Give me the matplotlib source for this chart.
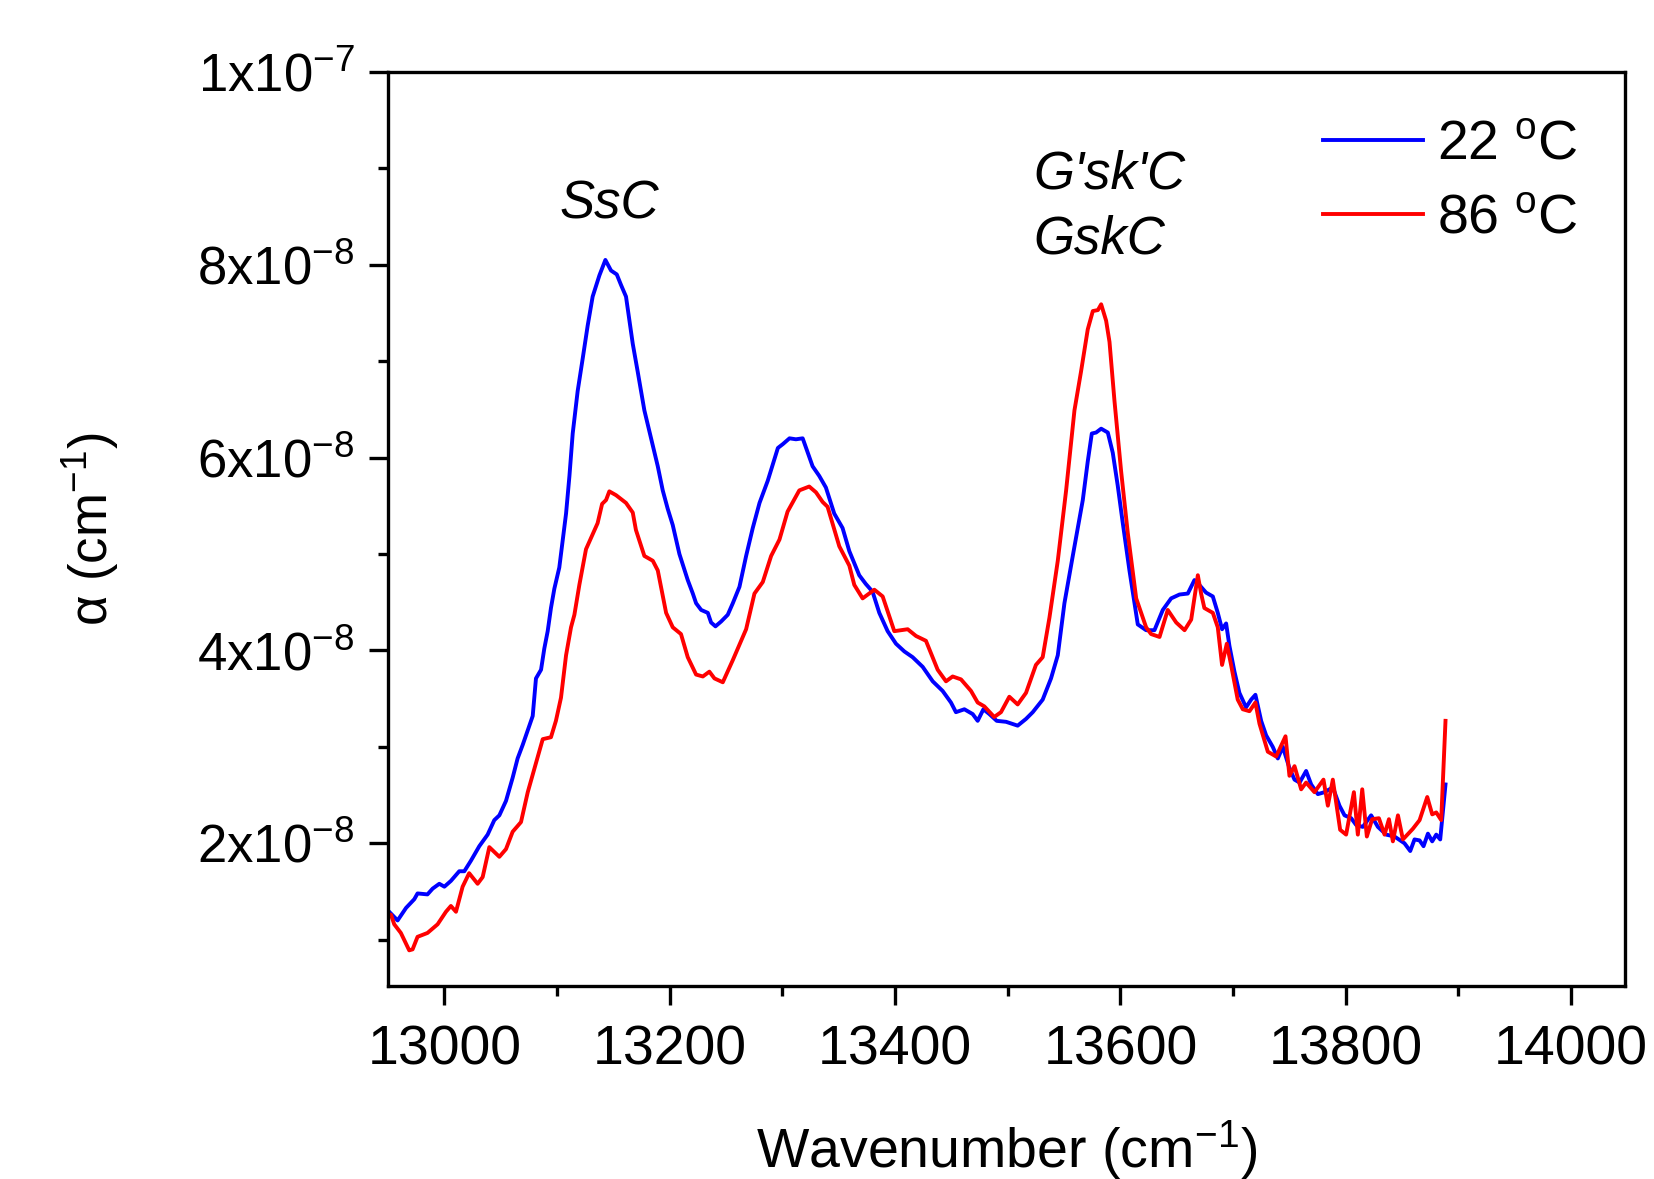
import matplotlib
matplotlib.use("Agg")
import matplotlib.pyplot as plt
from matplotlib.ticker import MultipleLocator, FuncFormatter
import numpy as np

plt.rcParams['font.family'] = ['Liberation Sans', 'DejaVu Sans']
plt.rcParams['mathtext.fontset'] = 'custom'
plt.rcParams['mathtext.rm'] = 'Liberation Sans'
plt.rcParams['mathtext.it'] = 'Liberation Sans:italic'

# 22 C spectrum (alpha in units of 1e-8 cm^-1)
wn_22 = [12951.0, 12958.5, 12966.0, 12973.3, 12976.2, 12985.0, 12989.6, 12995.5, 13000.0, 13005.8,
         13013.2, 13017.7, 13023.6, 13031.0, 13038.4, 13044.3, 13048.8, 13054.7, 13060.6, 13065.0,
         13069.5, 13074.0, 13078.4, 13081.3, 13085.8, 13088.7, 13091.7, 13094.6, 13097.6, 13102.0,
         13108.0, 13111.0, 13113.9, 13118.3, 13122.8, 13127.2, 13131.6, 13137.6, 13142.9, 13147.9,
         13153.0, 13156.8, 13161.2, 13167.2, 13171.6, 13177.5, 13183.4, 13189.4, 13193.8, 13198.2,
         13202.7, 13208.6, 13216.0, 13220.5, 13223.4, 13227.9, 13233.8, 13236.7, 13240.6, 13245.6,
         13251.5, 13256.0, 13261.9, 13267.8, 13273.7, 13279.7, 13287.0, 13296.0, 13300.4, 13306.3,
         13312.0, 13318.0, 13326.8, 13332.7, 13338.6, 13346.0, 13353.4, 13359.4, 13368.2, 13374.0,
         13380.0, 13386.0, 13393.4, 13400.8, 13408.2, 13415.6, 13424.5, 13433.4, 13442.2, 13449.6,
         13454.0, 13461.5, 13468.9, 13473.3, 13478.4, 13483.7, 13490.2, 13498.5, 13508.8, 13516.2,
         13522.2, 13531.0, 13538.4, 13544.4, 13550.3, 13557.7, 13566.6, 13571.0, 13574.6, 13578.4,
         13582.9, 13588.8, 13593.2, 13597.6, 13602.1, 13608.0, 13615.4, 13622.8, 13630.2, 13637.6,
         13645.0, 13652.4, 13659.8, 13665.7, 13670.0, 13676.0, 13682.0, 13686.4, 13690.2, 13693.8,
         13696.7, 13701.2, 13705.6, 13711.5, 13716.0, 13719.8, 13724.9, 13729.3, 13735.2, 13739.7,
         13744.1, 13750.0, 13754.5, 13759.0, 13764.8, 13769.3, 13775.2, 13781.1, 13788.5, 13794.4,
         13798.9, 13804.8, 13809.2, 13815.1, 13822.5, 13828.5, 13835.9, 13843.3, 13852.1, 13857.2,
         13861.0, 13865.5, 13869.0, 13872.9, 13876.7, 13880.3, 13883.8, 13888.5]
a_22 = [1.29, 1.20, 1.33, 1.42, 1.48, 1.47, 1.53, 1.58, 1.55, 1.61,
        1.71, 1.71, 1.82, 1.97, 2.09, 2.24, 2.29, 2.44, 2.68, 2.88,
        3.02, 3.17, 3.32, 3.71, 3.80, 4.02, 4.20, 4.44, 4.64, 4.86,
        5.42, 5.81, 6.25, 6.69, 7.03, 7.37, 7.67, 7.89, 8.05, 7.94,
        7.90, 7.79, 7.67, 7.18, 6.89, 6.49, 6.20, 5.91, 5.66, 5.47,
        5.30, 5.00, 4.73, 4.59, 4.49, 4.42, 4.39, 4.29, 4.25, 4.30,
        4.37, 4.49, 4.66, 4.98, 5.27, 5.53, 5.76, 6.10, 6.14, 6.20,
        6.19, 6.20, 5.91, 5.81, 5.69, 5.42, 5.27, 5.03, 4.78, 4.69,
        4.61, 4.39, 4.20, 4.07, 3.99, 3.93, 3.83, 3.68, 3.58, 3.46,
        3.36, 3.39, 3.34, 3.27, 3.39, 3.34, 3.27, 3.26, 3.22, 3.29,
        3.36, 3.49, 3.71, 3.95, 4.49, 4.98, 5.56, 5.96, 6.25, 6.26,
        6.30, 6.26, 6.05, 5.71, 5.32, 4.83, 4.27, 4.21, 4.21, 4.42,
        4.54, 4.58, 4.59, 4.73, 4.68, 4.60, 4.56, 4.39, 4.22, 4.28,
        4.05, 3.78, 3.56, 3.41, 3.49, 3.54, 3.27, 3.12, 3.00, 2.88,
        3.00, 2.78, 2.66, 2.63, 2.75, 2.61, 2.51, 2.53, 2.58, 2.39,
        2.29, 2.26, 2.19, 2.17, 2.29, 2.17, 2.09, 2.07, 2.00, 1.92,
        2.04, 2.03, 1.97, 2.10, 2.02, 2.09, 2.04, 2.61]

# 86 C spectrum
wn_86 = [12949.6, 12952.6, 12955.5, 12961.4, 12968.8, 12971.8, 12976.2, 12985.0, 12994.0, 13001.4,
         13005.8, 13010.3, 13016.2, 13022.0, 13029.5, 13034.0, 13039.9, 13048.8, 13054.7, 13060.6,
         13068.0, 13074.0, 13087.3, 13094.6, 13099.0, 13103.5, 13108.0, 13112.4, 13115.4, 13119.8,
         13125.7, 13136.0, 13140.0, 13143.5, 13146.4, 13152.4, 13161.2, 13167.2, 13170.0, 13177.5,
         13185.0, 13189.4, 13196.8, 13202.7, 13210.0, 13216.0, 13223.4, 13229.4, 13235.2, 13239.7,
         13247.1, 13256.0, 13267.8, 13275.2, 13282.6, 13290.0, 13297.4, 13304.6, 13315.0, 13323.8,
         13329.8, 13335.7, 13340.1, 13350.5, 13359.4, 13363.8, 13371.2, 13381.6, 13389.0, 13399.3,
         13411.2, 13418.6, 13427.4, 13437.8, 13445.2, 13451.1, 13458.5, 13467.4, 13473.3, 13479.2,
         13488.0, 13494.0, 13501.4, 13508.8, 13516.2, 13525.0, 13531.0, 13537.0, 13544.4, 13551.8,
         13559.2, 13565.0, 13571.0, 13575.5, 13580.0, 13582.9, 13587.3, 13590.3, 13594.7, 13600.6,
         13606.5, 13614.0, 13618.4, 13622.8, 13627.2, 13634.7, 13642.0, 13649.5, 13656.9, 13662.8,
         13668.7, 13671.6, 13674.5, 13682.0, 13686.4, 13690.2, 13694.4, 13698.2, 13704.1, 13708.6,
         13714.5, 13719.8, 13723.4, 13730.8, 13738.2, 13746.5, 13750.0, 13754.5, 13760.4, 13764.8,
         13772.2, 13780.2, 13784.1, 13788.5, 13795.0, 13800.3, 13807.2, 13810.7, 13814.6, 13818.7,
         13823.4, 13829.4, 13834.4, 13838.3, 13841.8, 13846.3, 13850.7, 13859.5, 13865.5, 13872.3,
         13876.7, 13880.3, 13884.7, 13888.5]
a_86 = [1.26, 1.26, 1.16, 1.07, 0.89, 0.90, 1.03, 1.07, 1.16, 1.29,
        1.35, 1.29, 1.55, 1.69, 1.58, 1.65, 1.96, 1.86, 1.94, 2.12,
        2.22, 2.53, 3.08, 3.10, 3.27, 3.51, 3.95, 4.24, 4.37, 4.68,
        5.05, 5.32, 5.52, 5.56, 5.65, 5.61, 5.53, 5.43, 5.25, 4.98,
        4.93, 4.83, 4.39, 4.24, 4.17, 3.93, 3.75, 3.73, 3.78, 3.71,
        3.67, 3.90, 4.22, 4.59, 4.71, 4.98, 5.15, 5.44, 5.66, 5.70,
        5.64, 5.54, 5.49, 5.08, 4.88, 4.68, 4.54, 4.63, 4.56, 4.20,
        4.22, 4.15, 4.10, 3.80, 3.68, 3.73, 3.70, 3.58, 3.46, 3.42,
        3.31, 3.36, 3.52, 3.44, 3.56, 3.85, 3.93, 4.34, 4.93, 5.66,
        6.49, 6.89, 7.33, 7.52, 7.53, 7.59, 7.42, 7.20, 6.59, 5.86,
        5.22, 4.54, 4.39, 4.24, 4.17, 4.14, 4.42, 4.29, 4.21, 4.32,
        4.78, 4.59, 4.44, 4.39, 4.24, 3.85, 4.07, 3.85, 3.49, 3.39,
        3.37, 3.46, 3.24, 2.95, 2.90, 3.11, 2.70, 2.80, 2.56, 2.63,
        2.53, 2.66, 2.39, 2.66, 2.14, 2.09, 2.53, 2.09, 2.56, 2.07,
        2.25, 2.26, 2.09, 2.25, 2.02, 2.29, 2.04, 2.15, 2.24, 2.48,
        2.30, 2.32, 2.24, 3.27]

labels = [r'22 $^{\mathregular{o}}$C', r'86 $^{\mathregular{o}}$C']
colors = ['#0000ff', '#ff0000']

fig = plt.figure(figsize=(16.54, 11.79), dpi=100)
ax = fig.add_axes([0.2346, 0.1637, 0.748, 0.7753])

ax.plot(wn_22, np.array(a_22) * 1e-8, color=colors[0], lw=2.8, label=labels[0])
ax.plot(wn_86, np.array(a_86) * 1e-8, color=colors[1], lw=2.8, label=labels[1])

ax.set_xlim(12950, 14048)
ax.set_ylim(5.2e-9, 1e-7)

ax.xaxis.set_major_locator(MultipleLocator(200))
ax.xaxis.set_minor_locator(MultipleLocator(100))
ax.yaxis.set_major_locator(MultipleLocator(2e-8))
ax.yaxis.set_minor_locator(MultipleLocator(1e-8))


def yfmt(v, pos):
    if abs(v - 1e-7) < 1e-12:
        return r'1x10$^{\mathregular{-7}}$'
    return r'%dx10$^{\mathregular{-8}}$' % round(v / 1e-8)


ax.yaxis.set_major_formatter(FuncFormatter(yfmt))

for s in ax.spines.values():
    s.set_linewidth(2.4)
ax.tick_params(which='major', direction='out', length=14, width=2.4, labelsize=38, pad=10)
ax.tick_params(which='minor', direction='out', length=7, width=2.4)
ax.tick_params(axis='x', labelsize=40, pad=14)

ax.set_xlabel('Wavenumber (cm$^{\\mathregular{-1}}$)', fontsize=40, labelpad=30)
ax.set_ylabel('\u03b1 (cm$^{\\mathregular{-1}}$)', fontsize=38, labelpad=55)

ax.text(13146, 8.62e-8, 'SsC', fontsize=38, style='italic', ha='center', va='center')
ax.text(13523, 8.94e-8, "G'sk'C", fontsize=38, style='italic', ha='left', va='center')
ax.text(13523, 8.26e-8, 'GskC', fontsize=38, style='italic', ha='left', va='center')

leg = ax.legend(loc='upper right', fontsize=40, frameon=False, handlelength=1.8,
                handletextpad=0.25, labelspacing=0.4, borderaxespad=0.45,
                borderpad=0.4)

fig.savefig('out.png', dpi=100)
